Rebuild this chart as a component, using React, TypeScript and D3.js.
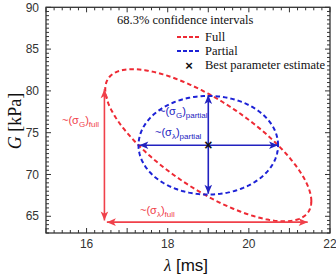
import React from "react";
import * as d3 from "d3";

const W = 336, H = 279;
const xDomain: [number, number] = [15, 22];
const yDomain: [number, number] = [63, 90];
const xTickLabels = [16, 18, 20, 22];
const yTickLabels = [65, 70, 75, 80, 85, 90];

const center = { lam: 19, g: 73.5 };
// full ellipse: sigma lambda, sigma G, correlation
const fullEllipse = { sx: 2.54, sy: 9.1, rho: -0.736 };
const partialEllipse = { sx: 1.72, sy: 5.9, rho: 0 };

// arrows: [x1,y1,x2,y2] in data units
const fullArrows = [
  [16.44, 80.2, 16.44, 64.5],
  [16.5, 64.3, 21.45, 64.3],
];
const partialArrows = [
  [17.3, 73.5, 20.72, 73.5],
  [19, 67.7, 19, 79.5],
];

const RED = "#ee2a34";
const RED2 = "#f0404a";
const BLUE = "#1d22d6";
const BLUE2 = "#2222c0";

export default function App() {
  const x = d3.scaleLinear().domain(xDomain).range([46, 330]);
  const y = d3.scaleLinear().domain(yDomain).range([233, 7.3]);

  const ellipsePath = (e: { sx: number; sy: number; rho: number }) => {
    const ts = d3.range(0, 361, 2).map((d) => (d * Math.PI) / 180);
    const line = d3
      .line<number>()
      .x((t) => x(center.lam + e.sx * Math.cos(t)))
      .y((t) =>
        y(center.g + e.sy * (e.rho * Math.cos(t) + Math.sqrt(1 - e.rho * e.rho) * Math.sin(t)))
      )
      .curve(d3.curveLinear);
    return line(ts) || "";
  };

  const xMinor = d3.range(15, 22.001, 0.2);
  const yMinor = d3.range(63, 90.001, 0.5);

  const arrowHead = (x1: number, y1: number, x2: number, y2: number, color: string, k: string) => {
    const ang = Math.atan2(y2 - y1, x2 - x1);
    const L = 9, Wd = 3.8;
    const bx = x2 - L * Math.cos(ang), by = y2 - L * Math.sin(ang);
    const px = -Math.sin(ang) * Wd, py = Math.cos(ang) * Wd;
    return (
      <path key={k} d={`M${x2},${y2}L${bx + px},${by + py}L${bx + L * 0.25 * Math.cos(ang)},${by + L * 0.25 * Math.sin(ang)}L${bx - px},${by - py}Z`} fill={color} />
    );
  };

  const drawArrow = (a: number[], color: string, k: string) => {
    const [x1, y1, x2, y2] = [x(a[0]), y(a[1]), x(a[2]), y(a[3])];
    return (
      <g key={k}>
        <line x1={x1} y1={y1} x2={x2} y2={y2} stroke={color} strokeWidth={1.6} />
        {arrowHead(x1, y1, x2, y2, color, k + "a")}
        {arrowHead(x2, y2, x1, y1, color, k + "b")}
      </g>
    );
  };

  const frameColor = "#333";
  const sans = "Liberation Sans, Arial, sans-serif";
  const serif = "Liberation Serif, Times New Roman, serif";

  return (
    <svg width={W} height={H} style={{ position: "absolute", left: 0, top: 0, background: "#fff" }}>
      <rect x={0} y={0} width={W} height={H} fill="#fff" />
      {xMinor.map((v, i) => {
        const major = Math.abs(v - Math.round(v)) < 1e-6;
        const len = major ? 5 : 3;
        const xv = x(v);
        return (
          <g key={"xt" + i} stroke={frameColor} strokeWidth={1}>
            <line x1={xv} x2={xv} y1={233} y2={233 - len} />
            <line x1={xv} x2={xv} y1={7.3} y2={7.3 + len} />
          </g>
        );
      })}
      {yMinor.map((v, i) => {
        const major = Math.abs(v / 5 - Math.round(v / 5)) < 1e-6;
        const len = major ? 5 : 3;
        const yv = y(v);
        return (
          <g key={"yt" + i} stroke={frameColor} strokeWidth={1}>
            <line x1={46} x2={46 + len} y1={yv} y2={yv} />
            <line x1={330} x2={330 - len} y1={yv} y2={yv} />
          </g>
        );
      })}
      <rect x={46} y={7.3} width={284} height={225.7} fill="none" stroke={frameColor} strokeWidth={1.3} />
      {xTickLabels.map((v) => (
        <text key={"xl" + v} x={x(v)} y={247.5} textAnchor="middle" fontFamily={sans} fontSize={12} fill="#333">
          {v}
        </text>
      ))}
      {yTickLabels.map((v) => (
        <text key={"yl" + v} x={39} y={y(v) + 4.2} textAnchor="end" fontFamily={sans} fontSize={12} fill="#333">
          {v}
        </text>
      ))}
      <text transform="translate(21,121) rotate(-90)" textAnchor="middle" fontFamily={serif} fontSize={18} fill="#111">
        <tspan fontStyle="italic">G</tspan> [kPa]
      </text>
      <text x={186} y={271} textAnchor="middle" fontFamily={sans} fontSize={17} fill="#111">
        <tspan fontFamily={serif} fontStyle="italic">λ</tspan> [ms]
      </text>

      <path d={ellipsePath(fullEllipse)} fill="none" stroke={RED} strokeWidth={2} strokeDasharray="4.5,3" />
      <path d={ellipsePath(partialEllipse)} fill="none" stroke={BLUE} strokeWidth={2} strokeDasharray="4.5,3" />

      {fullArrows.map((a, i) => drawArrow(a, RED2, "fa" + i))}
      {partialArrows.map((a, i) => drawArrow(a, BLUE2, "pa" + i))}

      <text x={x(center.lam)} y={y(center.g) + 4.5} textAnchor="middle" fontFamily={sans} fontSize={14} fontWeight="bold" fill="#111">×</text>

      <text x={62} y={124} fontFamily={sans} fontSize={11} fill={RED2}>
        ~(σ<tspan fontSize={8} dy={3}>G</tspan><tspan dy={-3}>)</tspan><tspan fontSize={8} dy={3}>full</tspan>
      </text>
      <text x={140} y={214} fontFamily={sans} fontSize={11} fill={RED2}>
        ~(σ<tspan fontSize={8} dy={3}>λ</tspan><tspan dy={-3}>)</tspan><tspan fontSize={8} dy={3}>full</tspan>
      </text>
      <text x={159} y={115} fontFamily={sans} fontSize={11} fill={BLUE2}>
        ~(σ<tspan fontSize={8} dy={3}>G</tspan><tspan dy={-3}>)</tspan><tspan fontSize={8} dy={3}>partial</tspan>
      </text>
      <text x={155} y={136} fontFamily={sans} fontSize={11} fill={BLUE2}>
        ~(σ<tspan fontSize={8} dy={3}>λ</tspan><tspan dy={-3}>)</tspan><tspan fontSize={8} dy={3}>partial</tspan>
      </text>

      <text x={117} y={24} fontFamily={serif} fontSize={12.5} fill="#111">68.3% confidence intervals</text>
      <line x1={177} x2={199} y1={37} y2={37} stroke={RED} strokeWidth={2} strokeDasharray="4,2" />
      <text x={205} y={41} fontFamily={serif} fontSize={12.5} fill="#111">Full</text>
      <line x1={177} x2={199} y1={51} y2={51} stroke={BLUE} strokeWidth={2} strokeDasharray="4,2" />
      <text x={205} y={55} fontFamily={serif} fontSize={12.5} fill="#111">Partial</text>
      <text x={189} y={69.5} textAnchor="middle" fontFamily={sans} fontSize={13} fontWeight="bold" fill="#111">×</text>
      <text x={205} y={69} fontFamily={serif} fontSize={12.5} fill="#111">Best parameter estimate</text>
    </svg>
  );
}
